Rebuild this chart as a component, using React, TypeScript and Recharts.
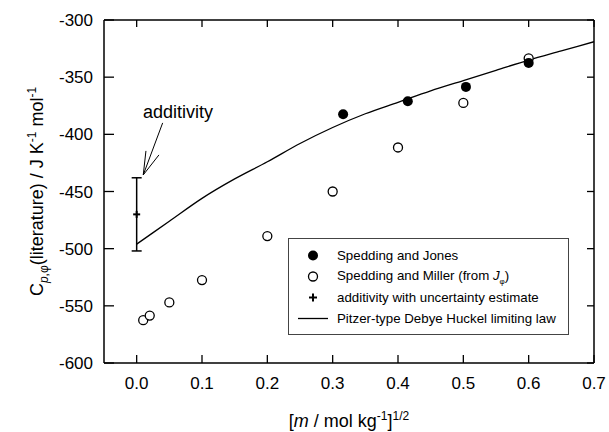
import {
  ComposedChart,
  ErrorBar,
  Line,
  ReferenceLine,
  Scatter,
  XAxis,
  YAxis
} from "recharts";

const font = "'Liberation Sans', Arial, Helvetica, sans-serif";

const xTicks = [0, 0.1, 0.2, 0.3, 0.4, 0.5, 0.6, 0.7];
const yTicks = [-600, -550, -500, -450, -400, -350, -300];
const xMin = -0.05;
const xMax = 0.7;
const yMin = -600;
const yMax = -300;

// Spedding and Jones (filled)
const jonesX = [0.316, 0.415, 0.504, 0.6];
const jonesY = [-382.5, -371, -358.5, -337.5];

// Spedding and Miller, from J_phi (open)
const millerX = [0.01, 0.02, 0.05, 0.1, 0.2, 0.3, 0.4, 0.5, 0.6];
const millerY = [-562.5, -558.5, -547, -527.5, -489, -450, -411.5, -372.5, -333.5];

// additivity estimate
const addX = [0];
const addY = [-470];
const addErr = [32];

// Pitzer-type Debye Huckel limiting law
const pitzerX = [0, 0.05, 0.1, 0.15, 0.2, 0.25, 0.3, 0.35, 0.4, 0.45, 0.5, 0.55, 0.6, 0.65, 0.7];
const pitzerY = [-496, -476, -456, -439, -424, -408, -394, -382, -372, -362, -353, -344, -335, -327, -319];

const jones = jonesX.map((x, i) => ({ x, y: jonesY[i] }));
const miller = millerX.map((x, i) => ({ x, y: millerY[i] }));
const additivity = addX.map((x, i) => ({ x, y: addY[i], err: addErr[i] }));
const pitzer = pitzerX.map((x, i) => ({ x, y: pitzerY[i] }));

// plot box that the chart margins below produce
const W = 609;
const H = 432;
const margin = { top: 20, right: 15, bottom: 0, left: 0 };
const yAxisWidth = 104;
const xAxisHeight = 69;
const boxL = margin.left + yAxisWidth;
const boxR = W - margin.right;
const boxT = margin.top;
const boxB = H - xAxisHeight;
const px = (x: number) => boxL + ((x - xMin) / (xMax - xMin)) * (boxR - boxL);
const py = (y: number) => boxT + ((yMax - y) / (yMax - yMin)) * (boxB - boxT);

const tickStyle = { fill: "#000", fontSize: 17, fontFamily: font };

function FilledDot(props: any) {
  return <circle cx={props.cx} cy={props.cy} fill="#000" r={5} />;
}

function OpenDot(props: any) {
  return <circle cx={props.cx} cy={props.cy} fill="#fff" r={4.5} stroke="#000" strokeWidth={1.3} />;
}

function PlusMark(props: any) {
  return (
    <g stroke="#000" strokeWidth={2}>
      <line x1={props.cx - 3.5} x2={props.cx + 3.5} y1={props.cy} y2={props.cy} />
      <line x1={props.cx} x2={props.cx} y1={props.cy - 3.5} y2={props.cy + 3.5} />
    </g>
  );
}

function XLabel(props: any) {
  const vb = props.viewBox;
  return (
    <text fill="#000" fontFamily={font} fontSize={18} textAnchor="middle" x={vb.x + vb.width / 2} y={vb.y + 64}>
      <tspan>[</tspan>
      <tspan fontStyle="italic">m</tspan>
      <tspan> / mol kg</tspan>
      <tspan dy={-7} fontSize={12}>-1</tspan>
      <tspan dy={7}>]</tspan>
      <tspan dy={-7} fontSize={12}>1/2</tspan>
    </text>
  );
}

function YLabel(props: any) {
  const vb = props.viewBox;
  return (
    <text
      fill="#000"
      fontFamily={font}
      fontSize={18}
      textAnchor="middle"
      transform={`translate(43, ${vb.y + vb.height / 2}) rotate(-90)`}
    >
      <tspan>C</tspan>
      <tspan dy={5} fontSize={12} fontStyle="italic">p</tspan>
      <tspan fontSize={12}>,φ</tspan>
      <tspan dy={-5}>(literature) / J K</tspan>
      <tspan dy={-7} fontSize={12}>-1</tspan>
      <tspan dy={7}> mol</tspan>
      <tspan dy={-7} fontSize={12}>-1</tspan>
    </text>
  );
}

const legendRows = [
  { name: "Spedding and Jones", kind: "filled" },
  { name: "Spedding and Miller (from ", kind: "open" },
  { name: "additivity with uncertainty estimate", kind: "plus" },
  { name: "Pitzer-type Debye Huckel limiting law", kind: "line" }
];

function LegendIcon({ kind }: { kind: string }) {
  return (
    <svg height={21} width={30}>
      {kind === "filled" && <circle cx={15} cy={10.5} fill="#000" r={5} />}
      {kind === "open" && <circle cx={15} cy={10.5} fill="#fff" r={4.5} stroke="#000" strokeWidth={1.3} />}
      {kind === "plus" && (
        <g stroke="#000" strokeWidth={2}>
          <line x1={11} x2={19} y1={10.5} y2={10.5} />
          <line x1={15} x2={15} y1={6.5} y2={14.5} />
        </g>
      )}
      {kind === "line" && <line stroke="#000" strokeWidth={1.3} x1={0} x2={30} y1={10.5} y2={10.5} />}
    </svg>
  );
}

export default function App() {
  return (
    <div style={{ position: "absolute", left: 0, top: 0, width: W, height: H, background: "#fff" }}>
      <ComposedChart height={H} margin={margin} width={W}>
        <XAxis
          allowDataOverflow
          axisLine={{ stroke: "#000", strokeWidth: 1.5 }}
          dataKey="x"
          domain={[xMin, xMax]}
          height={xAxisHeight}
          label={<XLabel />}
          tick={tickStyle}
          tickFormatter={(v: number) => v.toFixed(1)}
          tickLine={false}
          tickMargin={14}
          tickSize={0}
          ticks={xTicks}
          type="number"
          xAxisId="b"
        />
        <YAxis
          allowDataOverflow
          axisLine={{ stroke: "#000", strokeWidth: 1.5 }}
          domain={[yMin, yMax]}
          label={<YLabel />}
          tick={tickStyle}
          tickLine={false}
          tickMargin={11}
          tickSize={0}
          ticks={yTicks}
          type="number"
          width={yAxisWidth}
          yAxisId="l"
        />

        <Line
          data={pitzer}
          dataKey="y"
          dot={false}
          isAnimationActive={false}
          stroke="#000"
          strokeWidth={1.3}
          type="monotone"
          xAxisId="b"
          yAxisId="l"
        />
        <Scatter
          data={additivity}
          dataKey="y"
          isAnimationActive={false}
          shape={<PlusMark />}
          xAxisId="b"
          yAxisId="l"
        >
          <ErrorBar dataKey="err" direction="y" stroke="#000" strokeWidth={1.5} width={5} />
        </Scatter>
        <Scatter data={miller} dataKey="y" isAnimationActive={false} shape={<OpenDot />} xAxisId="b" yAxisId="l" />
        <Scatter data={jones} dataKey="y" isAnimationActive={false} shape={<FilledDot />} xAxisId="b" yAxisId="l" />

        {/* "additivity" arrow */}
        <ReferenceLine segment={[{ x: 0.0398, y: -390 }, { x: 0.0101, y: -435.5 }]} stroke="#000" xAxisId="b" yAxisId="l" />
        <ReferenceLine segment={[{ x: 0.0142, y: -414.5 }, { x: 0.0101, y: -435.5 }]} stroke="#000" xAxisId="b" yAxisId="l" />
        <ReferenceLine segment={[{ x: 0.0341, y: -418 }, { x: 0.0101, y: -435.5 }]} stroke="#000" xAxisId="b" yAxisId="l" />
      </ComposedChart>

      {/* box edges, inward ticks and annotation text */}
      <svg height={H} style={{ position: "absolute", left: 0, top: 0, pointerEvents: "none" }} width={W}>
        <g fill="none" stroke="#000">
          <line strokeWidth={1.5} x1={boxL} x2={boxR} y1={boxT} y2={boxT} />
          <line strokeWidth={1.5} x1={boxR} x2={boxR} y1={boxT} y2={boxB} />
          {xTicks.map((x) => (
            <line key={`b${x}`} strokeWidth={1.3} x1={px(x)} x2={px(x)} y1={boxB} y2={boxB - 8} />
          ))}
          {xTicks.map((x) => (
            <line key={`t${x}`} strokeWidth={1.3} x1={px(x)} x2={px(x)} y1={boxT} y2={boxT + 7} />
          ))}
          {yTicks.map((y) => (
            <line key={`l${y}`} strokeWidth={1.3} x1={boxL} x2={boxL + 10} y1={py(y)} y2={py(y)} />
          ))}
          {yTicks.map((y) => (
            <line key={`r${y}`} strokeWidth={1.3} x1={boxR} x2={boxR - 7} y1={py(y)} y2={py(y)} />
          ))}
        </g>
        <text fill="#000" fontFamily={font} fontSize={18} x={143} y={118}>
          additivity
        </text>
      </svg>

      <div
        style={{
          position: "absolute",
          left: 288,
          top: 238,
          width: 281,
          height: 97,
          boxSizing: "border-box",
          border: "1.5px solid #444",
          background: "#fff",
          paddingTop: 6,
          fontFamily: font,
          fontSize: 13.3,
          color: "#000"
        }}
      >
        {legendRows.map((row) => (
          <div key={row.kind} style={{ display: "flex", alignItems: "center", height: 21, paddingLeft: 9 }}>
            <LegendIcon kind={row.kind} />
            <span style={{ marginLeft: 9, whiteSpace: "nowrap" }}>
              {row.name}
              {row.kind === "open" && (
                <>
                  <i>J</i>
                  <sub style={{ fontSize: 8 }}>φ</sub>)
                </>
              )}
            </span>
          </div>
        ))}
      </div>
    </div>
  );
}
